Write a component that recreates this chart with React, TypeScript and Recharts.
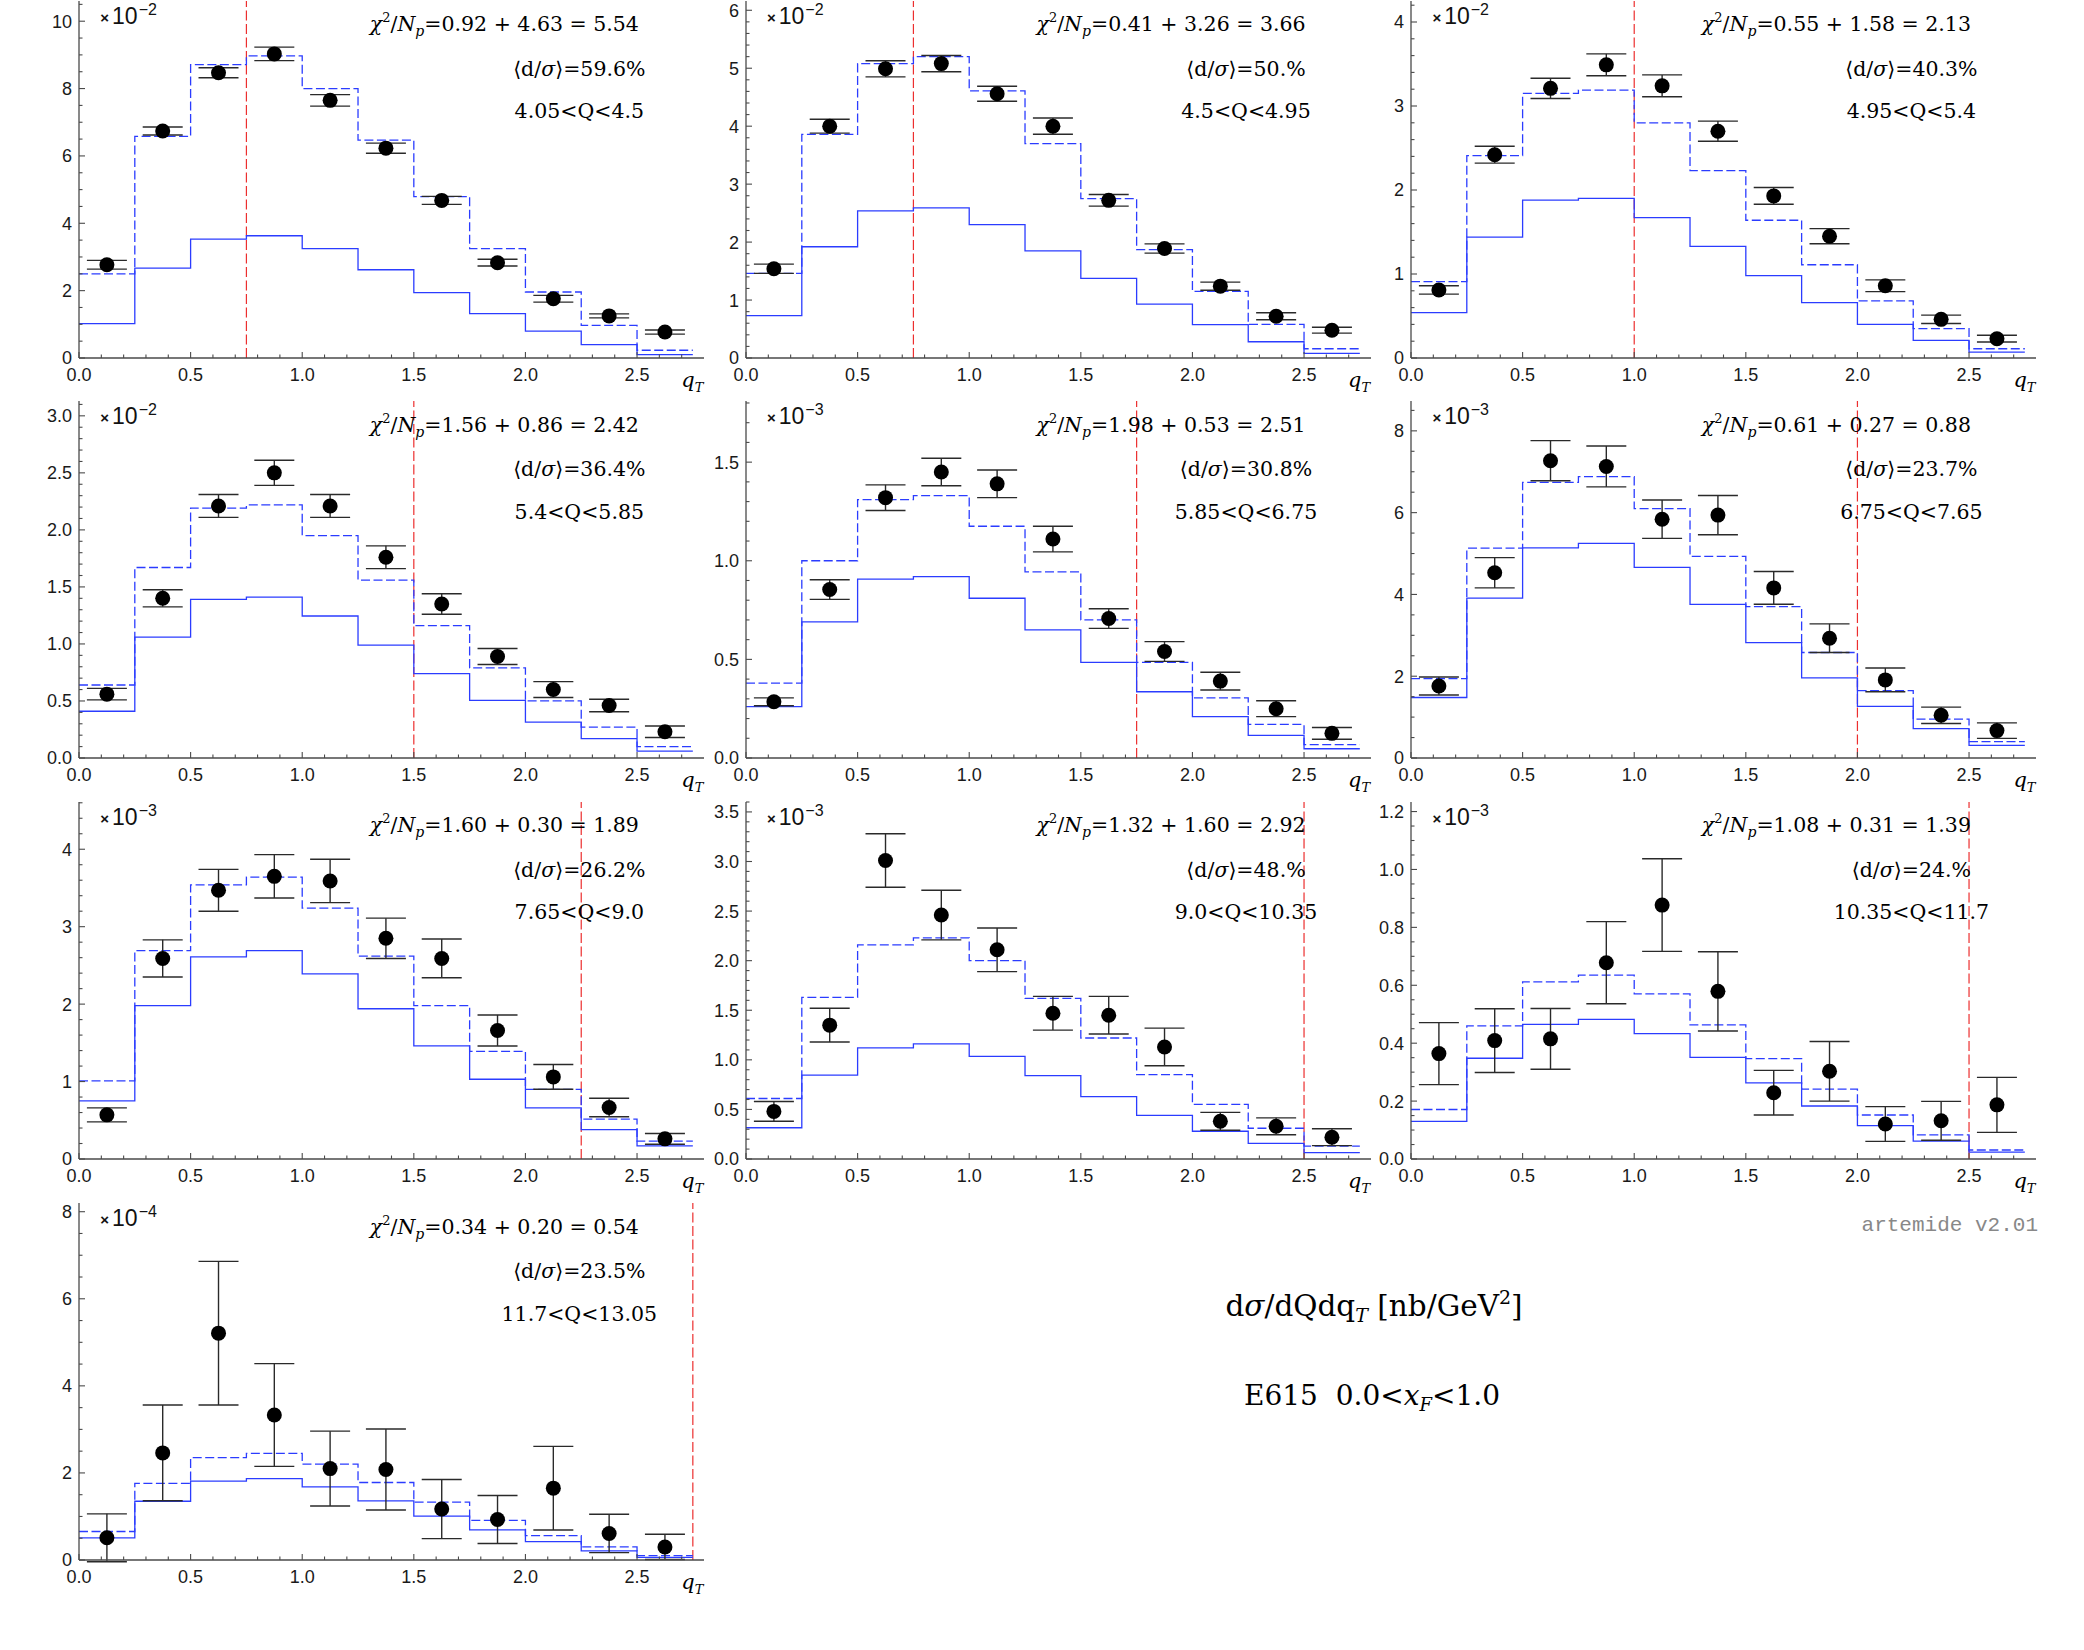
import React from 'react'
import { ComposedChart, Line, Scatter, ErrorBar, XAxis, YAxis, ReferenceLine } from 'recharts'

// bin edges and centres in q_T (GeV)
const qEdges = [0, 0.25, 0.5, 0.75, 1.0, 1.25, 1.5, 1.75, 2.0, 2.25, 2.5, 2.75]
const qCenters = [0.125, 0.375, 0.625, 0.875, 1.125, 1.375, 1.625, 1.875, 2.125, 2.375, 2.625]
const xTicks = [0, 0.1, 0.2, 0.3, 0.4, 0.5, 0.6, 0.7, 0.8, 0.9, 1.0, 1.1, 1.2, 1.3, 1.4, 1.5, 1.6, 1.7, 1.8, 1.9, 2.0, 2.1, 2.2, 2.3, 2.4, 2.5, 2.6, 2.7]

const qRanges = ['4.05<Q<4.5', '4.5<Q<4.95', '4.95<Q<5.4', '5.4<Q<5.85', '5.85<Q<6.75', '6.75<Q<7.65', '7.65<Q<9.0', '9.0<Q<10.35', '10.35<Q<11.7', '11.7<Q<13.05']
const chiValues = ['0.92 + 4.63 = 5.54', '0.41 + 3.26 = 3.66', '0.55 + 1.58 = 2.13', '1.56 + 0.86 = 2.42', '1.98 + 0.53 = 2.51', '0.61 + 0.27 = 0.88', '1.60 + 0.30 = 1.89', '1.32 + 1.60 = 2.92', '1.08 + 0.31 = 1.39', '0.34 + 0.20 = 0.54']
const dOverSigma = ['59.6%', '50.%', '40.3%', '36.4%', '30.8%', '23.7%', '26.2%', '48.%', '24.%', '23.5%']
const exponents = ['−2', '−2', '−2', '−2', '−3', '−3', '−3', '−3', '−3', '−4']
const cutQ = [0.75, 0.75, 1.0, 1.5, 1.75, 2.0, 2.25, 2.5, 2.5, 2.75]

const yMax = [10.6, 6.16, 4.25, 3.13, 1.81, 8.73, 4.61, 3.6, 1.233, 8.2]
const yMajor = [2, 1, 1, 0.5, 0.5, 2, 1, 0.5, 0.2, 2]
const yMinor = [0.5, 0.2, 0.2, 0.1, 0.1, 0.5, 0.2, 0.1, 0.05, 0.5]

// dashed histogram (full prediction)
const fullFit = [
  [2.50, 6.58, 8.71, 8.97, 8.00, 6.47, 4.79, 3.25, 1.96, 0.97, 0.23],
  [1.46, 3.86, 5.08, 5.20, 4.61, 3.70, 2.75, 1.87, 1.15, 0.58, 0.16],
  [0.91, 2.41, 3.15, 3.19, 2.80, 2.23, 1.64, 1.11, 0.68, 0.35, 0.11],
  [0.64, 1.67, 2.19, 2.22, 1.95, 1.56, 1.16, 0.79, 0.50, 0.27, 0.10],
  [0.38, 1.00, 1.31, 1.33, 1.175, 0.944, 0.70, 0.485, 0.305, 0.17, 0.068],
  [1.94, 5.13, 6.74, 6.88, 6.10, 4.93, 3.70, 2.58, 1.65, 0.95, 0.40],
  [1.01, 2.69, 3.54, 3.64, 3.24, 2.62, 1.98, 1.39, 0.90, 0.515, 0.23],
  [0.61, 1.63, 2.16, 2.23, 2.00, 1.62, 1.22, 0.85, 0.55, 0.31, 0.13],
  [0.171, 0.46, 0.612, 0.635, 0.57, 0.463, 0.347, 0.241, 0.152, 0.083, 0.031],
  [0.655, 1.76, 2.35, 2.45, 2.20, 1.78, 1.33, 0.91, 0.56, 0.30, 0.10],
]

// solid histogram
const partFit = [
  [1.02, 2.67, 3.53, 3.63, 3.25, 2.62, 1.94, 1.32, 0.80, 0.40, 0.10],
  [0.73, 1.92, 2.54, 2.59, 2.30, 1.85, 1.375, 0.93, 0.575, 0.28, 0.08],
  [0.54, 1.44, 1.88, 1.90, 1.67, 1.33, 0.98, 0.66, 0.40, 0.21, 0.07],
  [0.41, 1.06, 1.39, 1.41, 1.245, 0.99, 0.74, 0.505, 0.315, 0.17, 0.06],
  [0.26, 0.69, 0.907, 0.92, 0.81, 0.65, 0.485, 0.336, 0.21, 0.115, 0.047],
  [1.48, 3.91, 5.14, 5.25, 4.66, 3.755, 2.82, 1.96, 1.26, 0.72, 0.31],
  [0.75, 1.98, 2.61, 2.69, 2.39, 1.94, 1.46, 1.03, 0.66, 0.38, 0.17],
  [0.315, 0.845, 1.12, 1.16, 1.035, 0.84, 0.63, 0.44, 0.28, 0.157, 0.064],
  [0.13, 0.348, 0.465, 0.482, 0.433, 0.351, 0.263, 0.183, 0.115, 0.062, 0.024],
  [0.51, 1.35, 1.81, 1.87, 1.68, 1.36, 1.01, 0.69, 0.42, 0.21, 0.06],
]

// E615 data points and errors
const dataVals = [
  [2.77, 6.74, 8.47, 9.03, 7.65, 6.23, 4.68, 2.83, 1.76, 1.25, 0.77],
  [1.54, 4.00, 4.99, 5.08, 4.56, 4.00, 2.72, 1.89, 1.24, 0.72, 0.48],
  [0.81, 2.42, 3.21, 3.49, 3.24, 2.70, 1.93, 1.45, 0.86, 0.46, 0.23],
  [0.56, 1.40, 2.21, 2.50, 2.21, 1.76, 1.35, 0.89, 0.60, 0.46, 0.23],
  [0.285, 0.854, 1.32, 1.45, 1.39, 1.11, 0.707, 0.54, 0.39, 0.25, 0.125],
  [1.76, 4.53, 7.27, 7.13, 5.84, 5.94, 4.16, 2.93, 1.91, 1.045, 0.67],
  [0.57, 2.59, 3.47, 3.65, 3.59, 2.85, 2.59, 1.66, 1.06, 0.665, 0.26],
  [0.48, 1.35, 3.01, 2.46, 2.11, 1.47, 1.45, 1.13, 0.38, 0.33, 0.22],
  [0.364, 0.409, 0.415, 0.678, 0.877, 0.579, 0.229, 0.303, 0.121, 0.132, 0.187],
  [0.51, 2.46, 5.21, 3.33, 2.10, 2.08, 1.17, 0.93, 1.65, 0.61, 0.30],
]
const dataErrs = [
  [0.13, 0.12, 0.15, 0.2, 0.17, 0.15, 0.12, 0.1, 0.1, 0.06, 0.06],
  [0.08, 0.12, 0.14, 0.14, 0.13, 0.14, 0.1, 0.08, 0.07, 0.06, 0.05],
  [0.05, 0.1, 0.12, 0.13, 0.13, 0.12, 0.1, 0.09, 0.07, 0.05, 0.04],
  [0.05, 0.075, 0.1, 0.11, 0.1, 0.1, 0.09, 0.07, 0.07, 0.055, 0.05],
  [0.02, 0.05, 0.065, 0.07, 0.07, 0.065, 0.05, 0.05, 0.045, 0.04, 0.03],
  [0.22, 0.37, 0.49, 0.5, 0.47, 0.48, 0.4, 0.35, 0.29, 0.2, 0.19],
  [0.09, 0.24, 0.27, 0.28, 0.28, 0.26, 0.25, 0.2, 0.16, 0.12, 0.07],
  [0.1, 0.17, 0.27, 0.25, 0.22, 0.17, 0.19, 0.19, 0.09, 0.085, 0.085],
  [0.107, 0.11, 0.105, 0.142, 0.16, 0.137, 0.077, 0.103, 0.06, 0.067, 0.095],
  [0.55, 1.1, 1.65, 1.18, 0.86, 0.93, 0.68, 0.55, 0.96, 0.44, 0.29],
]

const colX = [79.3, 746, 1411.4]
const rowZero = [357.7, 757.8, 1158.5, 1560]
const PLOT_W = 625
const PLOT_H = 357
const AXIS_W = 70
const TOP_M = 10
const X_AXIS_H = 35

const blue = '#2b3cff'
const red = '#ec2f2f'
const axisGray = '#4a4a4a'
const tickFont = '"Liberation Sans", Arial, sans-serif'
const serif = '"DejaVu Serif", serif'

function isMajor(v: number, step: number) {
  const r = v / step
  return Math.abs(r - Math.round(r)) < 1e-6
}

function YTick(props: any) {
  const { x, y, payload, step, digits } = props
  const v = payload.value as number
  const major = isMajor(v, step)
  return (
    <g>
      <line x1={x} x2={x + (major ? 6 : 3.5)} y1={y} y2={y} stroke={axisGray} strokeWidth={1.1} />
      {major && (
        <text x={x - 7} y={y} dy="0.36em" textAnchor="end" fontSize={18} fontFamily={tickFont} fill="#1a1a1a">
          {v.toFixed(digits)}
        </text>
      )}
    </g>
  )
}

function XTick(props: any) {
  const { x, y, payload } = props
  const v = payload.value as number
  const major = isMajor(v, 0.5)
  return (
    <g>
      <line x1={x} x2={x} y1={y} y2={y - (major ? 6 : 3.5)} stroke={axisGray} strokeWidth={1.1} />
      {major && (
        <text x={x} y={y + 17} dy="0.36em" textAnchor="middle" fontSize={18} fontFamily={tickFont} fill="#1a1a1a">
          {v.toFixed(1)}
        </text>
      )}
    </g>
  )
}

function Panel({ p }: { p: number }) {
  const ax = colX[p % 3]
  const zero = rowZero[Math.floor(p / 3)]
  const plotTop = zero - PLOT_H
  const minor = yMinor[p]
  const n = Math.floor(yMax[p] / minor + 1e-9)
  const yTicks = Array.from({ length: n + 1 }, (_, i) => Math.round(i * minor * 10000) / 10000)
  const digits = yMajor[p] < 1 ? 1 : 0

  const fullData = qEdges.map((x, i) => ({ x, y: fullFit[p][Math.min(i, 10)] }))
  const partData = qEdges.map((x, i) => ({ x, y: partFit[p][Math.min(i, 10)] }))
  const pts = qCenters.map((x, i) => ({ x, y: dataVals[p][i], err: dataErrs[p][i] }))

  const textLine = (cx: number, cy: number): React.CSSProperties => ({
    position: 'absolute', left: ax + cx - 200, width: 400, top: plotTop + cy - 10.25,
    textAlign: 'center', fontFamily: serif, fontSize: 20.5, lineHeight: '20.5px', whiteSpace: 'nowrap',
  })

  return (
    <>
      <div style={{ position: 'absolute', left: ax - AXIS_W, top: plotTop - TOP_M }}>
        <ComposedChart
          width={AXIS_W + PLOT_W + 15}
          height={TOP_M + PLOT_H + X_AXIS_H}
          margin={{ top: TOP_M, right: 15, bottom: 0, left: 0 }}
        >
          <XAxis
            type="number"
            dataKey="x"
            domain={[0, 2.8]}
            ticks={xTicks}
            interval={0}
            allowDataOverflow
            height={X_AXIS_H}
            tickSize={0}
            tickMargin={0}
            tickLine={false}
            axisLine={{ stroke: axisGray, strokeWidth: 1.3 }}
            tick={(t: any) => <XTick {...t} />}
          />
          <YAxis
            type="number"
            dataKey="y"
            domain={[0, yMax[p]]}
            ticks={yTicks}
            interval={0}
            allowDataOverflow
            width={AXIS_W}
            tickSize={0}
            tickMargin={0}
            tickLine={false}
            axisLine={{ stroke: axisGray, strokeWidth: 1.3 }}
            tick={(t: any) => <YTick {...t} step={yMajor[p]} digits={digits} />}
          />
          <ReferenceLine x={cutQ[p]} stroke={red} strokeWidth={1.2} strokeDasharray="10 3.5" />
          <Line
            data={partData}
            dataKey="y"
            type="stepAfter"
            stroke={blue}
            strokeWidth={1.3}
            dot={false}
            isAnimationActive={false}
          />
          <Line
            data={fullData}
            dataKey="y"
            type="stepAfter"
            stroke={blue}
            strokeWidth={1.3}
            strokeDasharray="9 3.5"
            dot={false}
            isAnimationActive={false}
          />
          <Scatter
            data={pts}
            dataKey="y"
            isAnimationActive={false}
            shape={(s: any) => <circle cx={s.cx} cy={s.cy} r={7.5} fill="#000" />}
          >
            <ErrorBar dataKey="err" direction="y" width={20} stroke="#2a2a2a" strokeWidth={1.4} />
          </Scatter>
        </ComposedChart>
      </div>

      {/* exponent */}
      <div
        style={{
          position: 'absolute', left: ax + 21, top: plotTop + 4, fontFamily: tickFont,
          fontSize: 23, lineHeight: '23px', color: '#111', whiteSpace: 'nowrap',
        }}
      >
        <span style={{ fontSize: 15, fontWeight: 'bold', marginRight: 3, position: 'relative', top: -1 }}>×</span>10
        <span style={{ fontSize: 16, position: 'relative', top: -9, marginLeft: 1 }}>{exponents[p]}</span>
      </div>

      {/* annotations */}
      <div style={textLine(425, 24)}>
        <i>χ</i>
        <span style={{ fontSize: 13, position: 'relative', top: -9 }}>2</span>/<i>N</i>
        <i style={{ fontSize: 14, position: 'relative', top: 5 }}>p</i>={chiValues[p]}
      </div>
      <div style={textLine(500, 68.5)}>
        ⟨d/<i>σ</i>⟩={dOverSigma[p]}
      </div>
      <div style={textLine(500, 111)}>{qRanges[p]}</div>

      {/* x label */}
      <div
        style={{
          position: 'absolute', left: ax + 602, top: zero + 12, fontFamily: serif,
          fontSize: 21, lineHeight: '21px', whiteSpace: 'nowrap',
        }}
      >
        <i>q</i>
        <i style={{ fontSize: 13, position: 'relative', top: 5 }}>T</i>
      </div>
    </>
  )
}

export default function App() {
  return (
    <div style={{ position: 'absolute', left: 0, top: 0, width: 2084, height: 1650, background: '#fff', overflow: 'hidden' }}>
      {qRanges.map((_, p) => (
        <Panel key={p} p={p} />
      ))}
      <div
        style={{
          position: 'absolute', left: 1838, width: 200, top: 1214, textAlign: 'right',
          fontFamily: '"Liberation Mono", monospace', fontSize: 21, lineHeight: '24px', color: '#888',
        }}
      >
        artemide v2.01
      </div>
      <div
        style={{
          position: 'absolute', left: 1074, width: 600, top: 1290, textAlign: 'center',
          fontFamily: serif, fontSize: 29.5, lineHeight: '32px', whiteSpace: 'nowrap',
        }}
      >
        d<i>σ</i>/dQdq<i style={{ fontSize: 19, position: 'relative', top: 6 }}>T</i> [nb/GeV
        <span style={{ fontSize: 19, position: 'relative', top: -12 }}>2</span>]
      </div>
      <div
        style={{
          position: 'absolute', left: 1072, width: 600, top: 1380, textAlign: 'center',
          fontFamily: serif, fontSize: 28, lineHeight: '32px', whiteSpace: 'pre',
        }}
      >
        {'E615  0.0<'}<i>x</i>
        <i style={{ fontSize: 18, position: 'relative', top: 6 }}>F</i>
        {'<1.0'}
      </div>
    </div>
  )
}
